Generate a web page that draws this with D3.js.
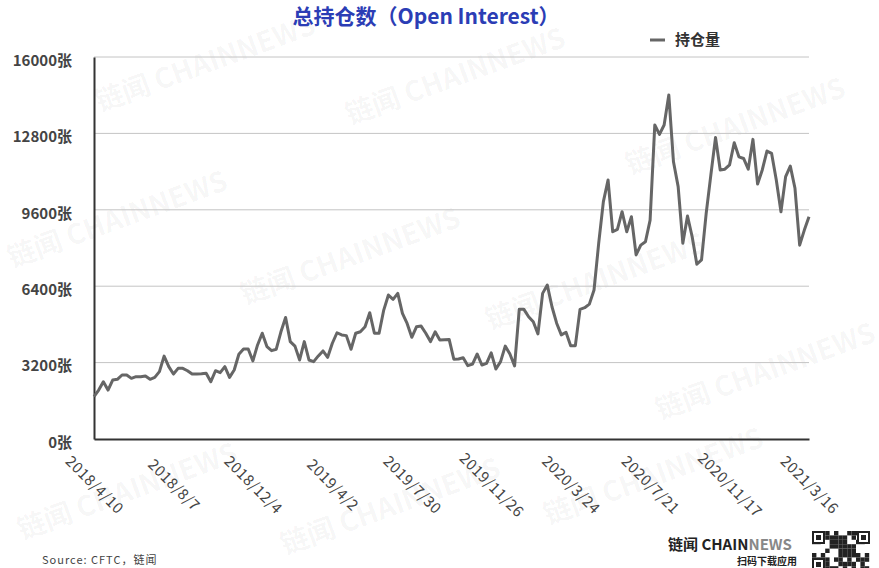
<!DOCTYPE html>
<html><head><meta charset="utf-8">
<script src="https://cdn.jsdelivr.net/npm/d3@7"></script>
<style>
html,body{margin:0;padding:0;background:#fff;}
svg{display:block;font-family:"Noto Sans CJK SC","Noto Sans",sans-serif;}
</style></head>
<body>
<svg id="chart" width="879" height="568"></svg>
<script>
// ---- data ----
const startDate = "2018-04-10";
const seriesName = "持仓量";
const openInterest = [
 1772,2050,2400,2050,2470,2500,2680,2680,2540,2610,
 2610,2640,2500,2580,2820,3470,3030,2720,2960,2960,
 2860,2720,2720,2730,2750,2400,2860,2780,3030,2580,
 2890,3550,3770,3770,3270,3940,4430,3870,3700,3760,
 4490,5090,4080,3890,3310,4080,3310,3240,3480,3690,
 3420,4010,4450,4360,4330,3760,4430,4490,4700,5290,
 4430,4430,5400,6030,5850,6100,5260,4840,4260,4700,
 4730,4430,4080,4490,4150,4160,4170,3340,3350,3400,
 3070,3140,3560,3100,3170,3610,2930,3240,3890,3560,
 3060,5430,5430,5120,4910,4400,6100,6450,5540,4850,
 4360,4470,3910,3910,5430,5500,5650,6240,8200,9940,
 10850,8680,8780,9520,8680,9310,7710,8120,8260,9170,
 13150,12760,13150,14410,11610,10570,8200,9340,8470,7320,
 7500,9450,11060,12630,11270,11300,11480,12410,11820,11750,
 11300,12550,10680,11270,12060,11960,10850,9520,10990,11430,
 10500,8120,8750,9310
];
const xTickLabels = ["2018/4/10","2018/8/7","2018/12/4","2019/4/2","2019/7/30","2019/11/26","2020/3/24","2020/7/21","2020/11/17","2021/3/16"];
const yTickValues = [0,3200,6400,9600,12800,16000];
const titleText = "总持仓数（Open Interest）";
const sourceText = "Source: CFTC，链闻";
const watermarkText = "链闻 CHAINNEWS";

// categories: weekly dates
const fmt = d3.timeFormat("%Y/%-m/%-d");
const d0 = d3.timeParse("%Y-%m-%d")(startDate);
const categories = openInterest.map((_, i) => fmt(d3.timeDay.offset(d0, i * 7)));

const svg = d3.select("#chart");
const W = 879, H = 568;
const m = {left: 94, right: 70, top: 57, bottom: 129};
const x = d3.scalePoint().domain(categories).range([m.left, W - m.right]);
const y = d3.scaleLinear().domain([0, 16000]).range([H - m.bottom, m.top]);

// watermarks (faint, kept inside the frame)
const wm = [[100,112],[350,125],[630,175],[12,268],[245,305],[490,330],[660,420],[22,540],[285,555],[548,525]];
svg.append("g").selectAll("text").data(wm).join("text")
  .attr("transform", d => `translate(${d[0]},${d[1]}) rotate(-20)`)
  .attr("font-size", 28).attr("font-weight", 700)
  .attr("fill", "#000").attr("fill-opacity", 0.045)
  .text(watermarkText);

// title
svg.append("text").attr("x", 426).attr("y", 24).attr("text-anchor", "middle")
  .attr("font-size", 21).attr("font-weight", 700).attr("fill", "#2b3db5")
  .text(titleText);

// grid
svg.append("g").selectAll("line").data(yTickValues.filter(v => v > 0)).join("line")
  .attr("x1", m.left).attr("x2", W - m.right)
  .attr("y1", d => y(d)).attr("y2", d => y(d))
  .attr("stroke", "#c4c4c4").attr("stroke-width", 1);

// y axis
const yAxis = d3.axisLeft(y).tickValues(yTickValues).tickSize(0).tickPadding(22)
  .tickFormat(d => d + "张");
const gy = svg.append("g").attr("transform", `translate(${m.left},0)`).call(yAxis);
gy.select(".domain").attr("stroke", "#333").attr("stroke-width", 2);
gy.selectAll("text").attr("font-size", 15).attr("font-weight", 600).attr("fill", "#444")
  .attr("font-family", "'Noto Sans CJK SC',sans-serif").attr("dy", "0.55em");

// x axis
const xAxis = d3.axisBottom(x).tickValues(xTickLabels).tickSize(0).tickPadding(0);
const gx = svg.append("g").attr("transform", `translate(0,${H - m.bottom})`).call(xAxis);
gx.select(".domain").attr("stroke", "#333").attr("stroke-width", 2);
gx.selectAll(".tick text")
  .attr("font-size", 15).attr("fill", "#444").attr("font-family", "'Noto Sans CJK SC',sans-serif")
  .attr("letter-spacing", 0.5)
  .attr("text-anchor", "middle").attr("dy", "0.35em").attr("y", 0)
  .attr("transform", "translate(0,46) rotate(45)");

// line
const line = d3.line().x((d, i) => x(categories[i])).y(d => y(d));
svg.append("path").datum(openInterest).attr("d", line)
  .attr("fill", "none").attr("stroke", "#666").attr("stroke-width", 3)
  .attr("stroke-linejoin", "round");

// legend
const lg = svg.append("g").attr("transform", "translate(650,40)");
lg.append("line").attr("x1", 0).attr("x2", 15).attr("stroke", "#666").attr("stroke-width", 3);
lg.append("text").attr("x", 25).attr("y", 0).attr("dy", "0.35em")
  .attr("font-size", 15).attr("font-weight", 700).attr("fill", "#333").text(seriesName);

// source
svg.append("text").attr("x", 42).attr("y", 564).attr("font-size", 11)
  .attr("fill", "#444").attr("letter-spacing", 1).text(sourceText);

// logo
const logo = svg.append("g");
const lt = logo.append("text").attr("x", 668).attr("y", 550).attr("font-size", 15).attr("font-weight", 700);
lt.append("tspan").attr("fill", "#222").text("链闻 CHAIN");
lt.append("tspan").attr("fill", "#888").text("NEWS");
logo.append("text").attr("x", 797).attr("y", 565).attr("text-anchor", "end")
  .attr("font-size", 10).attr("font-weight", 700).attr("fill", "#222").text("扫码下载应用");

// QR-like decoration
const qr = logo.append("g").attr("transform", "translate(812,531)");
qr.append("rect").attr("width", 58).attr("height", 40).attr("fill", "#fff");
const cells = [];
const pat = "1110101101011101100101011011010101110011100111001011101011011011100101";
for (let r = 0; r < 9; r++) for (let c = 0; c < 13; c++) {
  const k = (r * 13 + c) % pat.length;
  if (pat[(k * 7 + r) % pat.length] === "1") cells.push([c, r]);
}
qr.selectAll("rect.c").data(cells).join("rect").attr("class", "c")
  .attr("x", d => d[0] * 4.4).attr("y", d => d[1] * 4.4).attr("width", 4.4).attr("height", 4.4).attr("fill", "#222");
[[0,0],[45,0],[0,27]].forEach(p => {
  qr.append("rect").attr("x", p[0] + 1).attr("y", p[1] + 1).attr("width", 11).attr("height", 11)
    .attr("fill", "#fff").attr("stroke", "#222").attr("stroke-width", 2);
  qr.append("rect").attr("x", p[0] + 4).attr("y", p[1] + 4).attr("width", 5).attr("height", 5).attr("fill", "#222");
});
</script>
</body></html>
